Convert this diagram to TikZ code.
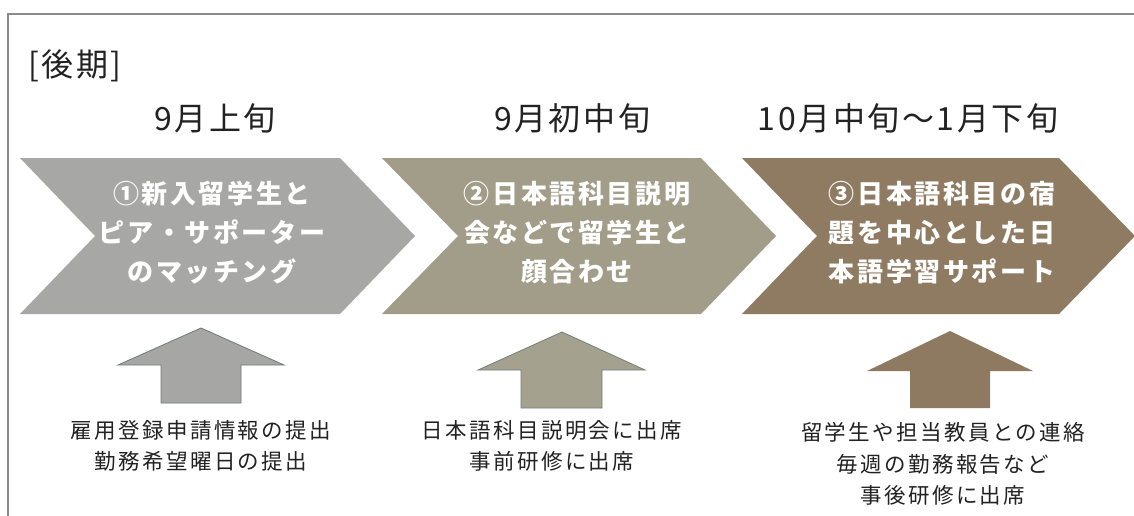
\documentclass[tikz,border=0pt]{standalone}
\usepackage{fontspec}
\newfontfamily\cjk{Noto Sans CJK JP}
\definecolor{chevA}{HTML}{A7A7A5}
\definecolor{chevB}{HTML}{A19D89}
\definecolor{chevC}{HTML}{8F7B62}
\definecolor{arrA}{HTML}{A6A6A4}
\definecolor{arrB}{HTML}{A4A18F}
\definecolor{arrC}{HTML}{8E7A60}
\definecolor{lineA}{HTML}{6F7A77}
\definecolor{lineB}{HTML}{738078}
\definecolor{framec}{HTML}{8A8A8A}
\definecolor{txt}{HTML}{222222}
\begin{document}
\begin{tikzpicture}[x=1pt,y=-1pt,
  period/.style={text=txt, inner sep=0pt, font=\cjk\fontsize{32}{36}\selectfont\addfontfeatures{LetterSpace=8}},
  chevtext/.style={text=white, inner sep=0pt, align=center, font=\cjk\bfseries\fontsize{26}{39}\selectfont\addfontfeatures{LetterSpace=10}},
  note/.style={text=txt, inner sep=0pt, align=center, font=\cjk\fontsize{21.5}{31.5}\selectfont\addfontfeatures{LetterSpace=11}}]
\useasboundingbox (0,0) rectangle (1134,516);
\clip (0,0) rectangle (1134,516);
\fill[white] (0,0) rectangle (1134,516);
\draw[framec, line width=2pt] (8,540) -- (8,14) -- (1150,14);

% title
\node[period, anchor=west] (title) at (28,66) {[後期]};
\node[period] (p1) at (215,118) {9月上旬};
\node[period] (p2) at (572,118) {9月初中旬};
\node[period] (p3) at (908,118) {10月中旬～1月下旬};

% chevrons
\fill[chevA] (20,158) -- (340,158) -- (415,236) -- (340,314) -- (20,314) -- (95,236) -- cycle;
\fill[chevB] (382,158) -- (701,158) -- (776,236) -- (701,314) -- (382,314) -- (458,236) -- cycle;
\fill[chevC] (742,158) -- (1059,158) -- (1135,236) -- (1059,314) -- (742,314) -- (817,236) -- cycle;

\node[chevtext] (c1) at (212,233) {①新入留学生と\\ピア・サポーター\\のマッチング};
\node[chevtext] (c2) at (577,233) {②日本語科目説明\\会などで留学生と\\顔合わせ};
\node[chevtext] (c3) at (942,233) {③日本語科目の宿\\題を中心とした日\\本語学習サポート};

% up arrows
\filldraw[fill=arrA, draw=lineA, line width=0.8pt] (201,328) -- (284,365) -- (241,365) -- (241,403) -- (161,403) -- (161,365) -- (118,365) -- cycle;
\filldraw[fill=arrB, draw=lineB, line width=0.8pt] (562,332) -- (645,370) -- (602,370) -- (602,408) -- (521,408) -- (521,370) -- (478,370) -- cycle;
\fill[arrC] (950,331) -- (1033,371) -- (990,371) -- (990,408) -- (910,408) -- (910,371) -- (867,371) -- cycle;

% notes
\node[note] (n1) at (201,446) {雇用登録申請情報の提出\\勤務希望曜日の提出};
\node[note] (n2) at (552,446) {日本語科目説明会に出席\\事前研修に出席};
\node[note] (n3) at (943,464) {留学生や担当教員との連絡\\毎週の勤務報告など\\事後研修に出席};
\end{tikzpicture}
\end{document}
